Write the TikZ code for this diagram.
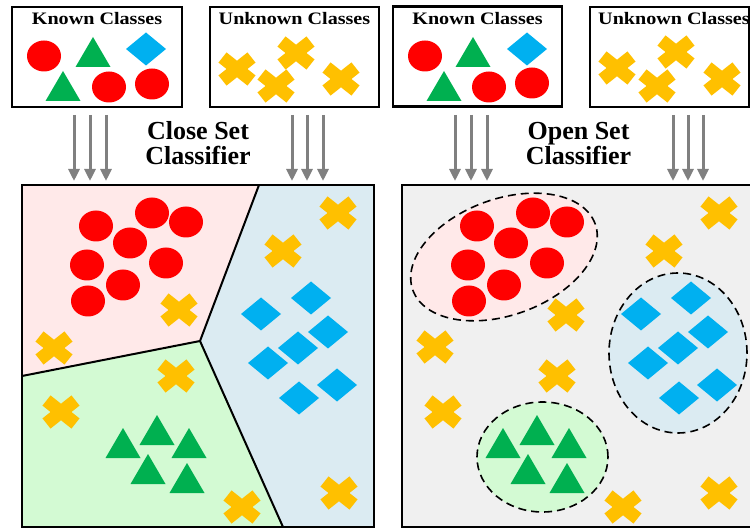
\documentclass[tikz,border=0pt]{standalone}
\usepackage{fontspec}
\setmainfont{Liberation Serif}
\newfontfamily\boxfont{Liberation Serif}[FakeStretch=1.15]
\usetikzlibrary{arrows.meta}

\definecolor{ballred}{HTML}{FF0000}
\definecolor{trigreen}{HTML}{00B050}
\definecolor{diablue}{HTML}{00B0F0}
\definecolor{crossyellow}{HTML}{FFC000}
\definecolor{zonepink}{HTML}{FFE9E9}
\definecolor{zonegreen}{HTML}{D3FAD3}
\definecolor{zoneblue}{HTML}{DBEBF2}
\definecolor{panelgray}{HTML}{F0F0F0}
\definecolor{arrowgray}{HTML}{808080}

\tikzset{
  ball/.pic={\fill[ballred] (0,0) ellipse [x radius=17pt, y radius=15.5pt];},
  tri/.pic={\fill[trigreen] (0,-15) -- (17.5,15) -- (-17.5,15) -- cycle;},
  dia/.pic={\fill[diablue] (-20,0) -- (0,-16.5) -- (20,0) -- (0,16.5) -- cycle;},
  cross/.pic={\draw[crossyellow, line width=13pt] (-14.5,-11.5) -- (14.5,11.5) (-14.5,11.5) -- (14.5,-11.5);},
  topbox/.style={draw=black, line width=2.5pt, fill=white, minimum height=100pt, inner sep=0pt},
  boxtitle/.style={anchor=base, inner sep=0pt, font=\boxfont\bfseries\fontsize{17.5}{20}\selectfont},
  classtitle/.style={align=center, inner sep=0pt, font=\bfseries\fontsize{26}{25}\selectfont},
  flow/.style={arrowgray, line width=3pt, -{Triangle[width=11pt,length=12pt]}},
  border/.style={draw=black, line width=2pt},
  cluster/.style={draw=black, line width=1.6pt, dash pattern=on 8pt off 5pt},
}

\begin{document}
\begin{tikzpicture}[x=1pt, y=-1pt]
\useasboundingbox (0,0) rectangle (750,529);
\clip (0,0) rectangle (750,529);

% ---------- input boxes ----------
\node[topbox, minimum width=170pt] (known1) at (97,57) {};
\node[topbox, minimum width=169pt] (unknown1) at (294.5,57) {};
\node[topbox, minimum width=169pt] (known2) at (477.5,56.5) {};
\node[topbox, minimum width=159pt] (unknown2) at (669.5,57) {};

\node[boxtitle] (t1) at (97,25) {Known Classes};
\node[boxtitle] (t2) at (294.5,25) {Unknown Classes};
\node[boxtitle] (t3) at (477.5,25) {Known Classes};
\node[boxtitle] (t4) at (674,25) {Unknown Classes};

\pic at (44,56) {ball};  \pic at (93,52) {tri};  \pic at (146,49) {dia};
\pic at (63,86) {tri};   \pic at (109,87) {ball}; \pic at (152,84) {ball};
\foreach \p in {(237,69),(296,53),(276,86),(341,79)} \pic at \p {cross};

\pic at (425,56) {ball}; \pic at (473,52) {tri};  \pic at (527,49) {dia};
\pic at (444,86) {tri};  \pic at (489,87) {ball}; \pic at (532,83) {ball};
\foreach \p in {(617,68),(676,52),(657,86),(722,79)} \pic at \p {cross};

% ---------- classifier labels (anchored on the last baseline) ----------
\node[classtitle, anchor=base] (close) at (198,165) {Close Set\\Classifier};
\node[classtitle, anchor=base] (open) at (578.5,165) {Open Set\\Classifier};

% ---------- arrows into the feature spaces ----------
\foreach \x [count=\i] in {74,90,106,292,307,323,455,471,487,673,688,703} {
  \coordinate (src\i) at (\x,115);
  \coordinate (dst\i) at (\x,181);
  \draw[flow] (src\i) -- (dst\i);
}

% ---------- closed-set feature space ----------
\coordinate (hub) at (200,341);
\coordinate (cutTop) at (259,185);
\coordinate (cutLeft) at (22,376);
\coordinate (cutBottom) at (283,527);
\fill[zonepink] (22,185) -- (cutTop) -- (hub) -- (cutLeft) -- cycle;
\fill[zoneblue] (cutTop) -- (374,185) -- (374,527) -- (cutBottom) -- (hub) -- cycle;
\fill[zonegreen] (cutLeft) -- (hub) -- (cutBottom) -- (22,527) -- cycle;
\draw[black, line width=2pt, line join=miter] (cutTop) -- (hub) -- (cutLeft);
\draw[black, line width=2pt] (hub) -- (cutBottom);
\draw[border] (22,185) rectangle (374,527);

\foreach \p in {(96,226),(152,213),(186,222),(130,243),(87,265),(166,263),(123,285),(88,301)}
  \pic at \p {ball};
\foreach \p in {(311,298),(261,314),(328,332),(298,348),(268,363),(337,385),(299,398)}
  \pic at \p {dia};
\foreach \p in {(157,430),(123,443),(189,443),(148,469),(187,478)}
  \pic at \p {tri};
\foreach \p in {(338,213),(283,251),(179,310),(54,348),(176,376),(61,412),(242,507),(339,493)}
  \pic at \p {cross};

% ---------- open-set feature space ----------
\filldraw[fill=panelgray, border] (402,185) rectangle (770,527);
\draw[cluster, fill=zonepink, rotate around={20:(504,257)}] (504,257) ellipse [x radius=97pt, y radius=58pt];
\draw[cluster, fill=zoneblue] (678,353) ellipse [x radius=69pt, y radius=80pt];
\draw[cluster, fill=zonegreen] (542.5,457) ellipse [x radius=65.5pt, y radius=55pt];

\foreach \p in {(477,226),(533,213),(567,222),(511,243),(468,265),(547,263),(504,285),(469,301)}
  \pic at \p {ball};
\foreach \p in {(691,298),(641,314),(708,332),(678,348),(648,363),(717,385),(679,398)}
  \pic at \p {dia};
\foreach \p in {(537,430),(503,443),(569,443),(528,469),(567,478)}
  \pic at \p {tri};
\foreach \p in {(719,213),(664,251),(566,315),(435,347),(557,376),(443,412),(623,507),(719,493)}
  \pic at \p {cross};
\end{tikzpicture}
\end{document}
